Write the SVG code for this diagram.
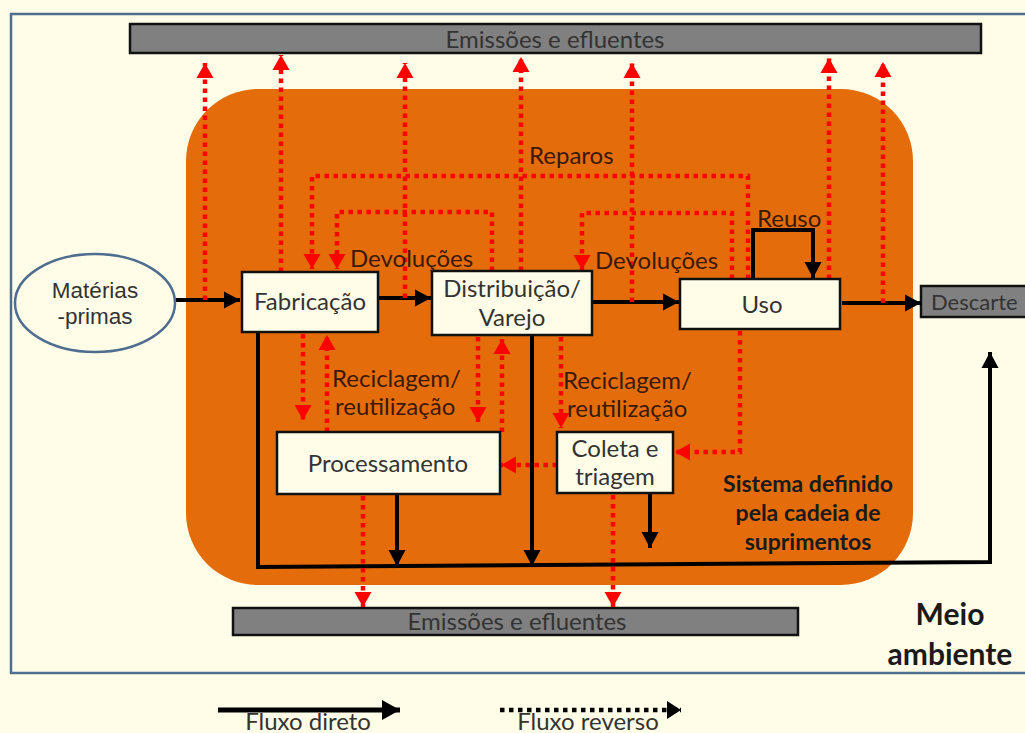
<svg xmlns="http://www.w3.org/2000/svg" width="1025" height="733" viewBox="0 0 1025 733">
<defs>
<style>
.t{font-family:Lato,"Open Sans",sans-serif;font-size:24px;fill:#333;}
.lab{font-family:Lato,"Open Sans",sans-serif;font-size:24px;fill:#3a1a05;}
.b{font-family:Lato,"Open Sans",sans-serif;font-weight:bold;fill:#1a1a1a;}
.box{fill:#FFFDE8;stroke:#111;stroke-width:2.5;}
.bar{fill:#808080;stroke:#111;stroke-width:2.5;}
.d{fill:none;stroke:#000;stroke-width:4;}
.r{fill:none;stroke:#FF0000;stroke-width:4.5;stroke-dasharray:4.5 4.5;}
</style>
<marker id="ak" markerUnits="userSpaceOnUse" markerWidth="16" markerHeight="17" refX="16" refY="8.5" orient="auto" overflow="visible"><path d="M0,0 L16,8.5 L0,17 z" fill="#000"/></marker>
<marker id="ar" markerUnits="userSpaceOnUse" markerWidth="15" markerHeight="17" refX="15" refY="8.5" orient="auto" overflow="visible"><path d="M0,0 L15,8.5 L0,17 z" fill="#FF0000"/></marker>
<marker id="al" markerUnits="userSpaceOnUse" markerWidth="18" markerHeight="20" refX="18" refY="10" orient="auto" overflow="visible"><path d="M0,0 L18,10 L0,20 z" fill="#000"/></marker>
<marker id="am" markerUnits="userSpaceOnUse" markerWidth="14" markerHeight="18" refX="14" refY="9" orient="auto" overflow="visible"><path d="M0,0 L14,9 L0,18 z" fill="#000"/></marker>
</defs>
<rect width="1025" height="733" fill="#FFFDE8"/>
<rect x="11" y="14" width="1030" height="659" fill="none" stroke="#4F6D8F" stroke-width="2.5"/>
<rect x="186" y="89" width="727" height="496" rx="72" fill="#E46C0A"/>

<g id="emissoes-top"><rect class="bar" x="130" y="24" width="851" height="29"/><text class="t" x="555" y="48" text-anchor="middle" fill="#262626">Emissões e efluentes</text></g>
<g id="emissoes-bottom"><rect class="bar" x="233" y="608" width="565" height="27"/><text class="t" x="517" y="630" text-anchor="middle" fill="#262626">Emissões e efluentes</text></g>
<g id="descarte"><rect class="bar" x="921" y="286" width="120" height="31"/><text class="t" x="931" y="310" font-size="22" style="font-size:22px" fill="#262626">Descarte</text></g>

<g id="connectors">
<path class="d" d="M176,300 H240" marker-end="url(#ak)"/>
<path class="d" d="M378,298 H431" marker-end="url(#ak)"/>
<path class="d" d="M592,302 H679" marker-end="url(#ak)"/>
<path class="d" d="M842,303 H921" marker-end="url(#ak)"/>
<path class="d" d="M753,279 V230 H813 V278" marker-end="url(#ak)"/>
<path class="d" d="M258,332 V567 L990,562 V352" marker-end="url(#ak)"/>
<path class="d" d="M397,494 V566" marker-end="url(#ak)"/>
<path class="d" d="M532,335 V566" marker-end="url(#ak)"/>
<path class="d" d="M650,493 V548" marker-end="url(#ak)"/>

<path class="r" d="M205,300 V63" marker-end="url(#ar)"/>
<path class="r" d="M281,272 V55" marker-end="url(#ar)"/>
<path class="r" d="M405,298 V63" marker-end="url(#ar)"/>
<path class="r" d="M521,271 V57" marker-end="url(#ar)"/>
<path class="r" d="M632,302 V63" marker-end="url(#ar)"/>
<path class="r" d="M829,279 V58" marker-end="url(#ar)"/>
<path class="r" d="M883,303 V62" marker-end="url(#ar)"/>

<path class="r" d="M748,279 V176 H312 V269" marker-end="url(#ar)"/>
<path class="r" d="M492,271 V212 H337 V269" marker-end="url(#ar)"/>
<path class="r" d="M732,279 V213 H582 V270" marker-end="url(#ar)"/>

<path class="r" d="M303,334 V420" marker-end="url(#ar)"/>
<path class="r" d="M327,432 V335" marker-end="url(#ar)"/>
<path class="r" d="M478,337 V422" marker-end="url(#ar)"/>
<path class="r" d="M502,432 V339" marker-end="url(#ar)"/>
<path class="r" d="M561,337 V428" marker-end="url(#ar)"/>
<path class="r" d="M740,331 V452 H675" marker-end="url(#ar)"/>
<path class="r" d="M557,465 H501" marker-end="url(#ar)"/>
<path class="r" d="M363,496 V607" marker-end="url(#ar)"/>
<path class="r" d="M613,495 V607" marker-end="url(#ar)"/>
</g>

<g id="materias"><ellipse cx="95" cy="303" rx="80" ry="49" fill="#FFFDE8" stroke="#4F6D8F" stroke-width="2.5"/><text x="95" y="298" text-anchor="middle" font-family="'Liberation Sans',Arial,sans-serif" font-size="22.5" fill="#333">Matérias</text><text x="95" y="324" text-anchor="middle" font-family="'Liberation Sans',Arial,sans-serif" font-size="22.5" fill="#333">-primas</text></g>
<g id="fabricacao"><rect class="box" x="242" y="272" width="136" height="60"/><text class="t" x="310" y="310" text-anchor="middle">Fabricação</text></g>
<g id="distribuicao"><rect class="box" x="432" y="271" width="160" height="64"/><text class="t" x="512" y="297" text-anchor="middle">Distribuição/</text><text class="t" x="512" y="326" text-anchor="middle">Varejo</text></g>
<g id="uso"><rect class="box" x="680" y="279" width="160" height="50"/><text class="t" x="762" y="313" text-anchor="middle">Uso</text></g>
<g id="processamento"><rect class="box" x="277" y="432" width="223" height="62"/><text class="t" x="388" y="472" text-anchor="middle">Processamento</text></g>
<g id="coleta"><rect class="box" x="557" y="432" width="116" height="61"/><text class="t" x="615" y="457" text-anchor="middle">Coleta e</text><text class="t" x="615" y="485" text-anchor="middle">triagem</text></g>

<g id="labels">
<text class="lab" x="529" y="164">Reparos</text>
<text class="lab" x="350" y="267">Devoluções</text>
<text class="lab" x="595" y="269">Devoluções</text>
<text class="lab" x="757" y="227">Reuso</text>
<text class="lab" x="332" y="387">Reciclagem/</text>
<text class="lab" x="335" y="415">reutilização</text>
<text class="lab" x="563" y="389">Reciclagem/</text>
<text class="lab" x="567" y="417">reutilização</text>
<text class="b" x="808" y="492" text-anchor="middle" font-size="23">Sistema definido</text>
<text class="b" x="808" y="521" text-anchor="middle" font-size="23">pela cadeia de</text>
<text class="b" x="808" y="550" text-anchor="middle" font-size="23">suprimentos</text>
<text class="b" x="950" y="625" text-anchor="middle" font-size="30">Meio</text>
<text class="b" x="950" y="665" text-anchor="middle" font-size="30">ambiente</text>
</g>

<g id="legend">
<path d="M218,710 H400" fill="none" stroke="#000" stroke-width="5" marker-end="url(#al)"/>
<text class="t" x="308" y="730" text-anchor="middle" fill="#222">Fluxo direto</text>
<path d="M500,710 H681" fill="none" stroke="#000" stroke-width="4.5" stroke-dasharray="4.5 4.5" marker-end="url(#am)"/>
<text class="t" x="588" y="730" text-anchor="middle" fill="#222">Fluxo reverso</text>
</g>
</svg>
